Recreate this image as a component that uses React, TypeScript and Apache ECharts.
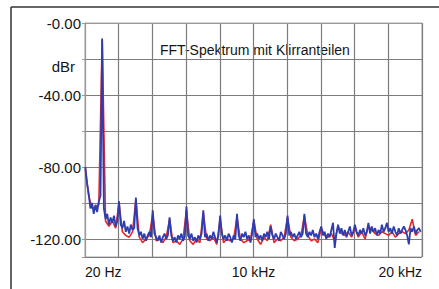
import React, { useEffect, useRef } from "react";
import * as echarts from "echarts";

// Frequency grid of the measured spectrum
const FREQ_START_HZ = 20;
const BLUE_STEP_HZ = 100;
const RED_STEP_HZ = 200;

// Channel 1 (blue), dBr, one value every 100 Hz from 20 Hz
const BLUE_DB = [
  -80, -89, -95, -103, -100, -106, -101, -105, -99, -96,
  -9, -103, -109, -106, -112, -108, -111, -107, -113, -110,
  -99, -112, -114, -110, -116, -113, -117, -112, -115, -114,
  -97, -114, -118, -116, -120, -117, -121, -118, -116, -119,
  -104, -117, -119, -121, -118, -122, -119, -117, -120, -118,
  -108, -118, -121, -119, -122, -118, -120, -117, -121, -119,
  -102, -118, -120, -117, -121, -119, -122, -118, -120, -117,
  -104, -119, -117, -121, -118, -120, -116, -119, -122, -118,
  -107, -117, -120, -118, -121, -117, -119, -122, -118, -120,
  -106, -118, -121, -117, -119, -116, -120, -118, -122, -117,
  -109, -119, -117, -120, -118, -121, -117, -119, -116, -120,
  -113, -118, -120, -117, -119, -121, -116, -118, -120, -117,
  -107, -118, -116, -119, -117, -120, -118, -116, -119, -117,
  -106, -117, -119, -116, -118, -115, -119, -117, -120, -116,
  -113, -118, -116, -120, -117, -119, -115, -111, -125, -117,
  -112, -117, -114, -118, -115, -119, -116, -113, -118, -116,
  -112, -116, -118, -115, -117, -114, -118, -116, -111, -117,
  -113, -116, -114, -118, -115, -117, -112, -116, -114, -111,
  -116, -114, -117, -113, -116, -118, -114, -117, -115, -113,
  -115, -118, -123, -114, -116, -113, -117, -115, -114, -116,
];

// Channel 2 (red), dBr, one value every 200 Hz from 20 Hz
const RED_DB = [
  -81, -96, -103, -102, -101,
  -8.5, -110, -113, -110, -114,
  -100, -116, -118, -119, -116,
  -98, -119, -122, -120, -118,
  -106, -121, -120, -122, -119,
  -109, -122, -121, -123, -120,
  -104, -121, -123, -120, -122,
  -105, -120, -121, -119, -123,
  -109, -122, -120, -121, -120,
  -108, -120, -122, -121, -120,
  -110, -120, -123, -119, -121,
  -112, -122, -120, -121, -119,
  -108, -119, -121, -120, -118,
  -107, -118, -121, -120, -122,
  -114, -118, -119, -117, -121,
  -113, -117, -118, -116, -119,
  -114, -119, -116, -120, -113,
  -115, -117, -118, -116, -117,
  -118, -116, -119, -117, -116,
  -117, -115, -109, -118, -116,
];

// Axis labels
const X_LABELS: Record<number, string> = { 0: "20 Hz", 10000: "10 kHz", 20000: "20 kHz" };
const Y_LABELS: Record<number, string> = { 0: "-0.00", 40: "-40.00", 80: "-80.00", 120: "-120.00" };
const Y_UNIT = "dBr";
const TITLE = "FFT-Spektrum mit Klirranteilen";

const FONT = "Liberation Sans, Arial, Helvetica, sans-serif";
const TEXT_COLOR = "#151515";
const GRID_COLOR = "#7c7c7c";

export default function App() {
  const ref = useRef<HTMLDivElement>(null);

  useEffect(() => {
    if (!ref.current) return;
    const chart = echarts.init(ref.current, null, { renderer: "svg" });
    // attenuation (positive) on an inverted axis so that gridlines count from 0 dBr
    const blue = BLUE_DB.map((v, i) => [FREQ_START_HZ + i * BLUE_STEP_HZ, -v]);
    const red = RED_DB.map((v, i) => [FREQ_START_HZ + i * RED_STEP_HZ, -v]);

    chart.setOption({
      animation: false,
      backgroundColor: "#ffffff",
      grid: {
        left: 85,
        right: 17,
        top: 23,
        bottom: 32,
        show: true,
        borderColor: "#a8a8a8",
        borderWidth: 1,
        backgroundColor: "transparent",
      },
      xAxis: {
        type: "value",
        min: 0,
        max: 20000,
        interval: 2000,
        axisLine: { show: true, lineStyle: { color: "#999999", width: 1 } },
        axisTick: { show: false },
        splitLine: { show: true, lineStyle: { color: GRID_COLOR, width: 1.2 } },
        axisLabel: {
          show: true,
          margin: 8,
          fontSize: 14,
          fontFamily: FONT,
          color: TEXT_COLOR,
          showMinLabel: true,
          showMaxLabel: true,
          alignMinLabel: "left",
          alignMaxLabel: "right",
          formatter: (v: number) => X_LABELS[v] ?? "",
        },
      },
      yAxis: {
        type: "value",
        inverse: true,
        min: 0,
        max: 130,
        interval: 20,
        axisLine: { show: true, lineStyle: { color: "#999999", width: 1 } },
        axisTick: { show: true, length: 3, inside: false, lineStyle: { color: "#999999" } },
        splitLine: { show: true, lineStyle: { color: GRID_COLOR, width: 1.2 } },
        axisLabel: {
          show: true,
          margin: 4,
          fontSize: 15,
          fontFamily: FONT,
          color: TEXT_COLOR,
          formatter: (v: number) => Y_LABELS[v] ?? "",
        },
      },
      graphic: [
        {
          type: "line",
          shape: { x1: 11, y1: 7, x2: 439, y2: 7 },
          style: { stroke: "#333333", lineWidth: 1.5 },
          silent: true,
        },
        {
          type: "line",
          shape: { x1: 11, y1: 7, x2: 11, y2: 289 },
          style: { stroke: "#333333", lineWidth: 1.5 },
          silent: true,
        },
        {
          type: "text",
          x: 75,
          y: 66,
          style: {
            text: Y_UNIT,
            fill: TEXT_COLOR,
            font: `15px ${FONT}`,
            align: "right",
            verticalAlign: "middle",
          },
          silent: true,
        },
        {
          type: "text",
          x: 160,
          y: 50,
          style: {
            text: TITLE,
            fill: TEXT_COLOR,
            font: `14px ${FONT}`,
            align: "left",
            verticalAlign: "middle",
          },
          silent: true,
        },
      ],
      series: [
        {
          type: "line",
          data: red,
          showSymbol: false,
          symbol: "none",
          lineStyle: { color: "#e8262a", width: 1.6 },
          z: 2,
          silent: true,
        },
        {
          type: "line",
          data: blue,
          showSymbol: false,
          symbol: "none",
          lineStyle: { color: "#2d3db0", width: 1.8 },
          z: 3,
          silent: true,
        },
      ],
    });

    return () => chart.dispose();
  }, []);

  return (
    <div
      ref={ref}
      style={{ position: "fixed", left: 0, top: 0, width: 439, height: 289, background: "#fff" }}
    />
  );
}
